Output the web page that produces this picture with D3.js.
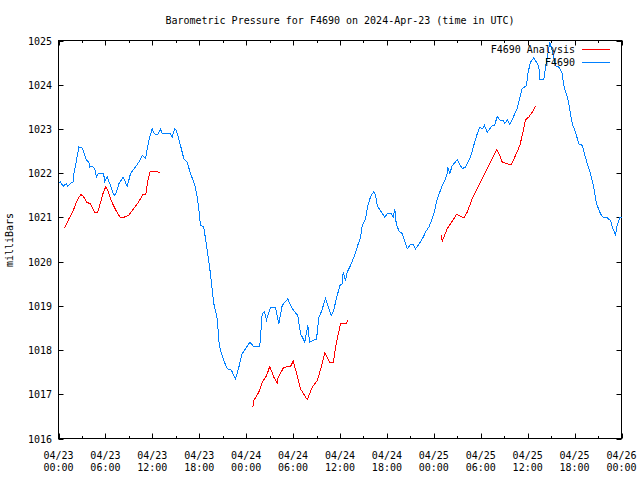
<!DOCTYPE html>
<html>
<head>
<meta charset="utf-8">
<script src="https://cdn.jsdelivr.net/npm/d3@7"></script>
<style>
  body { margin: 0; background: #fff; }
  svg text { font-family: "DejaVu Sans Mono", monospace; font-size: 10px; fill: #000; }
</style>
</head>
<body>
<div class="graph"></div>
<script>
// hours since 2024-04-23 00:00 UTC, pressure in mb
const obsHours = [0, 0.26, 0.6, 1.02, 1.19, 1.53, 1.88, 1.96, 2.3, 2.6, 3.03, 3.24, 3.58, 3.88, 4.0, 4.31, 4.64, 4.86, 5.08, 5.79, 5.88, 6.23, 6.56, 7.0, 7.2, 7.42, 7.71, 8.27, 8.79, 9.21, 9.85, 10.27, 10.7, 11.13, 11.55, 11.98, 12.28, 12.7, 13.04, 13.26, 14.32, 14.54, 14.84, 15.09, 15.6, 16.02, 16.46, 16.88, 17.39, 17.74, 17.94, 18.16, 18.58, 19.02, 19.44, 19.66, 19.86, 20.3, 20.5, 20.72, 21.14, 21.58, 22.09, 22.64, 23.06, 23.49, 23.92, 24.47, 24.9, 25.74, 26.05, 26.35, 26.6, 27.11, 27.75, 28.17, 28.61, 29.33, 29.67, 30.09, 30.6, 30.95, 31.5, 31.88, 32.1, 33.0, 33.29, 33.6, 34.15, 34.44, 34.88, 35.13, 35.64, 35.98, 36.28, 36.41, 36.7, 36.92, 37.34, 37.77, 38.2, 38.62, 38.84, 39.26, 39.56, 39.9, 40.32, 40.54, 40.76, 41.09, 41.4, 41.73, 42.04, 42.55, 42.8, 43.01, 43.19, 43.52, 43.96, 44.25, 44.6, 45.02, 45.36, 45.66, 46.08, 46.64, 46.94, 47.36, 47.79, 48.12, 48.43, 48.76, 49.07, 49.4, 49.71, 49.78, 50.04, 50.35, 50.99, 51.63, 52.05, 52.69, 53.11, 53.55, 53.88, 54.19, 54.48, 54.83, 55.47, 55.76, 56.11, 56.53, 56.87, 57.08, 57.39, 57.72, 58.02, 58.66, 59.08, 59.3, 59.85, 60.02, 60.36, 60.78, 61.13, 61.43, 61.55, 62.06, 62.28, 62.58, 62.83, 63.14, 63.56, 63.98, 64.42, 64.62, 65.06, 65.26, 65.7, 66.12, 66.54, 66.98, 67.27, 67.61, 68.04, 68.46, 68.8, 69.32, 69.66, 70.17, 70.6, 70.81, 71.23, 71.45, 71.78, 72.0];
const obsPressure = [1021.79, 1021.8, 1021.7, 1021.77, 1021.7, 1021.77, 1021.8, 1021.99, 1022.29, 1022.59, 1022.57, 1022.47, 1022.29, 1022.25, 1022.14, 1022.15, 1022.1, 1021.91, 1021.99, 1021.99, 1021.8, 1021.91, 1021.76, 1021.53, 1021.5, 1021.57, 1021.76, 1021.91, 1021.7, 1021.99, 1022.14, 1022.25, 1022.4, 1022.33, 1022.74, 1023.0, 1022.89, 1022.87, 1023.0, 1022.89, 1022.89, 1022.81, 1023.0, 1022.96, 1022.63, 1022.33, 1022.25, 1021.99, 1021.76, 1021.46, 1021.19, 1020.82, 1020.78, 1020.25, 1019.72, 1019.35, 1019.05, 1018.71, 1018.22, 1017.99, 1017.76, 1017.58, 1017.55, 1017.35, 1017.61, 1017.92, 1018.03, 1018.18, 1018.09, 1018.08, 1018.82, 1018.86, 1018.68, 1018.97, 1018.97, 1018.59, 1019.01, 1019.16, 1019.01, 1018.89, 1018.78, 1018.37, 1018.18, 1018.56, 1018.18, 1018.25, 1018.74, 1018.86, 1019.16, 1019.01, 1018.78, 1018.86, 1019.23, 1019.46, 1019.5, 1019.76, 1019.57, 1019.76, 1019.91, 1020.1, 1020.33, 1020.55, 1020.82, 1020.97, 1021.27, 1021.46, 1021.59, 1021.5, 1021.27, 1021.17, 1021.09, 1021.0, 1021.08, 1021.08, 1021.0, 1021.19, 1020.86, 1020.7, 1020.63, 1020.48, 1020.29, 1020.39, 1020.39, 1020.29, 1020.39, 1020.55, 1020.67, 1020.78, 1020.97, 1021.16, 1021.42, 1021.57, 1021.72, 1021.83, 1021.99, 1022.14, 1021.99, 1022.17, 1022.3, 1022.1, 1022.14, 1022.36, 1022.63, 1022.89, 1023.04, 1023.0, 1023.08, 1022.93, 1023.08, 1023.08, 1023.28, 1023.19, 1023.19, 1023.12, 1023.21, 1023.1, 1023.21, 1023.46, 1023.76, 1023.91, 1023.98, 1024.25, 1024.51, 1024.61, 1024.51, 1024.4, 1024.11, 1024.11, 1024.4, 1024.7, 1024.96, 1024.77, 1024.43, 1024.4, 1024.25, 1023.98, 1023.72, 1023.57, 1023.12, 1022.93, 1022.66, 1022.63, 1022.44, 1022.21, 1021.99, 1021.68, 1021.31, 1021.08, 1021.0, 1020.99, 1020.93, 1020.78, 1020.61, 1020.82, 1020.99, 1021.0];

// analysis comes in three separate runs
const anaHours1 = [0.77, 1.28, 1.92, 2.34, 2.85, 3.2, 3.62, 4.05, 4.6, 5.03, 5.33, 5.67, 6.05, 6.39, 6.74, 7.25, 7.89, 8.31, 8.95, 9.59, 10.23, 10.78, 11.17, 11.42, 11.73, 12.28, 13.01];
const anaPressure1 = [1020.76, 1020.95, 1021.17, 1021.37, 1021.52, 1021.47, 1021.34, 1021.31, 1021.12, 1021.12, 1021.31, 1021.53, 1021.7, 1021.57, 1021.38, 1021.19, 1021.0, 1021.0, 1021.04, 1021.19, 1021.34, 1021.52, 1021.53, 1021.83, 1022.04, 1022.04, 1022.02];
const anaHours2 = [24.85, 24.98, 25.62, 26.05, 26.6, 27.02, 27.53, 27.97, 28.1, 28.81, 29.67, 30.02, 30.53, 30.95, 31.81, 32.45, 33.09, 33.6, 34.06, 34.7, 35.13, 35.55, 36.07, 36.83, 37.0];
const anaPressure2 = [1016.71, 1016.86, 1017.05, 1017.27, 1017.42, 1017.63, 1017.39, 1017.25, 1017.39, 1017.61, 1017.63, 1017.75, 1017.42, 1017.12, 1016.88, 1017.16, 1017.31, 1017.61, 1017.94, 1017.71, 1017.71, 1018.18, 1018.59, 1018.61, 1018.68];
const anaHours3 = [48.95, 49.07, 49.71, 50.56, 50.91, 51.84, 52.27, 52.91, 53.55, 54.19, 54.83, 55.47, 56.02, 56.44, 56.75, 57.39, 57.9, 58.45, 59.0, 59.3, 59.73, 60.15, 60.58, 61.01];
const anaPressure3 = [1020.59, 1020.46, 1020.74, 1020.97, 1021.07, 1020.99, 1021.12, 1021.42, 1021.65, 1021.87, 1022.1, 1022.33, 1022.53, 1022.4, 1022.25, 1022.21, 1022.2, 1022.4, 1022.63, 1022.85, 1023.21, 1023.27, 1023.38, 1023.51];

const yTicks = [1016, 1017, 1018, 1019, 1020, 1021, 1022, 1023, 1024, 1025];
const dayLabels = ["04/23", "04/23", "04/23", "04/23", "04/24", "04/24", "04/24", "04/24", "04/25", "04/25", "04/25", "04/25", "04/26"];
const timeLabels = ["00:00", "06:00", "12:00", "18:00", "00:00", "06:00", "12:00", "18:00", "00:00", "06:00", "12:00", "18:00", "00:00"];

const W = 640, H = 480;
const pLeft = 58.5, pRight = 621.5, pTop = 40.5, pBottom = 438.5;

const svg = d3.select(".graph").append("svg")
    .attr("width", W).attr("height", H);

const x = d3.scaleLinear().domain([0, 72]).range([pLeft, pRight]);
const y = d3.scaleLinear().domain([1016, 1025]).range([pBottom, pTop]);

// título y etiqueta del eje
svg.append("text").attr("x", 340).attr("y", 23.5).attr("text-anchor", "middle")
    .text("Barometric Pressure for F4690 on 2024-Apr-23 (time in UTC)");
svg.append("text").attr("transform", "translate(13,240) rotate(-90)")
    .attr("text-anchor", "middle").text("milliBars");

// ticks Y, por dentro a ambos lados
const yg = svg.append("g");
yTicks.forEach(v => {
    const yy = Math.round(y(v)) + 0.5;
    yg.append("line").attr("x1", pLeft).attr("x2", pLeft + 5).attr("y1", yy).attr("y2", yy).attr("stroke", "#000");
    yg.append("line").attr("x1", pRight - 5).attr("x2", pRight).attr("y1", yy).attr("y2", yy).attr("stroke", "#000");
    yg.append("text").attr("x", 52).attr("y", yy + 3.5).attr("text-anchor", "end").text(v);
});

// ticks X: mayores cada 6 h, menores cada 3 h
const xg = svg.append("g");
d3.range(0, 73, 3).forEach(h => {
    const xx = Math.round(x(h)) + 0.5;
    const len = h % 6 === 0 ? 5 : 2.5;
    xg.append("line").attr("x1", xx).attr("x2", xx).attr("y1", pBottom).attr("y2", pBottom - len).attr("stroke", "#000");
    xg.append("line").attr("x1", xx).attr("x2", xx).attr("y1", pTop).attr("y2", pTop + len).attr("stroke", "#000");
});
dayLabels.forEach((d, i) => {
    const xx = x(i * 6);
    xg.append("text").attr("x", xx).attr("y", 459).attr("text-anchor", "middle").text(d);
    xg.append("text").attr("x", xx).attr("y", 471).attr("text-anchor", "middle").text(timeLabels[i]);
});

svg.append("rect").attr("x", pLeft).attr("y", pTop)
    .attr("width", pRight - pLeft).attr("height", pBottom - pTop)
    .attr("fill", "none").attr("stroke", "#000");

const line = d3.line().x(d => x(d[0])).y(d => y(d[1]));
const zip = (a, b) => a.map((v, i) => [v, b[i]]);

[[anaHours1, anaPressure1], [anaHours2, anaPressure2], [anaHours3, anaPressure3]].forEach(([h, p]) => {
    svg.append("path").datum(zip(h, p)).attr("d", line)
        .attr("fill", "none").attr("stroke", "#ff0000").attr("stroke-width", 1)
        .attr("shape-rendering", "crispEdges");
});
svg.append("path").datum(zip(obsHours, obsPressure)).attr("d", line)
    .attr("fill", "none").attr("stroke", "#0080ff").attr("stroke-width", 1)
    .attr("shape-rendering", "crispEdges");

// leyenda
const legend = [["F4690 Analysis", "#ff0000"], ["F4690", "#0080ff"]];
legend.forEach(([name, c], i) => {
    const ly = 49.5 + i * 13;
    svg.append("text").attr("x", 575).attr("y", ly + 3.5).attr("text-anchor", "end").text(name);
    svg.append("line").attr("x1", 582).attr("x2", 610).attr("y1", ly).attr("y2", ly)
        .attr("stroke", c).attr("stroke-width", 1);
});
</script>
</body>
</html>
